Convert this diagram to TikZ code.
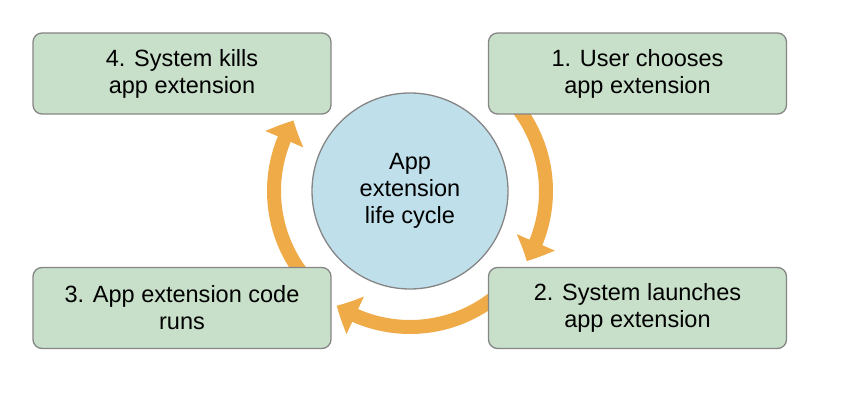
\documentclass[tikz,border=0pt]{standalone}
\usepackage{fontspec}
\setmainfont{Liberation Sans}
\usetikzlibrary{arrows.meta,bending}
\definecolor{boxfill}{HTML}{C8E0C9}
\definecolor{boxline}{HTML}{858585}
\definecolor{circfill}{HTML}{BFDFEA}
\definecolor{arrowc}{HTML}{F0AB49}
\tikzset{
  stepbox/.style={draw=boxline, line width=1.3pt, fill=boxfill, rounded corners=9pt,
    minimum width=298pt, minimum height=81pt, inner sep=0pt, align=center,
    font=\fontsize{23.5}{27}\selectfont},
  hub/.style={circle, draw=boxline, line width=1.3pt, fill=circfill, minimum size=196pt,
    inner sep=0pt, align=center, font=\fontsize{23.5}{27}\selectfont},
  flow/.style={draw=arrowc, line width=14pt,
    -{Triangle[length=21pt,width=40pt,bend]}, arrowc},
}
\begin{document}
\begin{tikzpicture}[x=1pt,y=1pt]
\useasboundingbox (0,0) rectangle (842,404);
\node[hub] (c) at (410,213) {App\\extension\\life cycle};
% arrows (drawn beneath the boxes)
\draw[flow] ([shift={(40:136)}]c.center) arc[start angle=40, end angle=-31, radius=136];
\draw[flow] ([shift={(-50:136)}]c.center) arc[start angle=-50, end angle=-122.6, radius=136];
\draw[flow] ([shift={(220:136)}]c.center) arc[start angle=220, end angle=148.8, radius=136];
% boxes
\node[stepbox] (s4) at (182,330.5) {4. System kills\\app extension};
\node[stepbox] (s1) at (637.5,330.5) {1. User chooses\\app extension};
\node[stepbox] (s3) at (182,96) {3. App extension code\\runs};
\node[stepbox] (s2) at (637.5,96) {2. System launches\\app extension};
\end{tikzpicture}
\end{document}
